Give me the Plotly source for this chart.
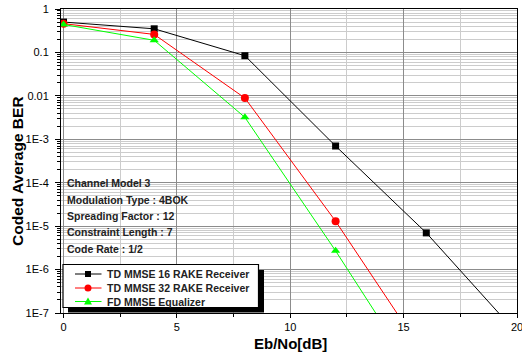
import plotly.graph_objects as go

# ---------------- data ----------------
ebno = [0, 4, 8, 12, 16, 20]
td_mmse_16 = [0.50, 0.35, 0.084, 7.0e-4, 7.0e-6, 3.4e-8]
td_mmse_32 = [0.46, 0.26, 0.0089, 1.3e-5, 9.6e-9]
fd_mmse = [0.44, 0.19, 0.0032, 2.7e-6, 1.55e-9]

series_names = ["TD MMSE 16 RAKE Receiver", "TD MMSE 32 RAKE Receiver", "FD MMSE Equalizer"]
series_colors = ["#000000", "#ff0000", "#00ff00"]
series_symbols = ["square", "circle", "triangle-up"]

y_tick_vals = [1, 0.1, 0.01, 1e-3, 1e-4, 1e-5, 1e-6, 1e-7]
y_tick_text = ["1", "0.1", "0.01", "1E-3", "1E-4", "1E-5", "1E-6", "1E-7"]
x_tick_vals = [0, 5, 10, 15, 20]

info_lines = ["Channel Model 3", "Modulation Type : 4BOK", "Spreading Factor : 12",
              "Constraint Length : 7", "Code Rate : 1/2"]

# ---------------- layout geometry (pixels) ----------------
W, H = 522, 356
ML, MR, MT, MB = 61, 5, 9, 43
PW, PH = W - ML - MR, H - MT - MB
FONT = "Liberation Sans, Arial, sans-serif"


def px(xp):
    return (xp - ML) / PW


def py(yp):
    return (H - MB - yp) / PH


fig = go.Figure()
ys = [td_mmse_16, td_mmse_32, fd_mmse]
for name, col, sym, yv in zip(series_names, series_colors, series_symbols, ys):
    fig.add_trace(go.Scatter(
        x=ebno[:len(yv)], y=yv, name=name, mode="lines+markers",
        line=dict(color=col, width=1),
        marker=dict(symbol=sym, size=8 if sym != "square" else 7, color=col),
        cliponaxis=True, showlegend=False))

minor_y = [k * 10.0 ** e for e in range(-7, 0) for k in range(2, 10)]

fig.update_layout(
    width=W, height=H,
    margin=dict(l=ML, r=MR, t=MT, b=MB, autoexpand=False),
    paper_bgcolor="white", plot_bgcolor="white",
    font=dict(family=FONT, size=11, color="#000"),
    showlegend=False,
    xaxis=dict(
        range=[-0.11, 20], tickmode="array", tickvals=x_tick_vals,
        automargin=False,
        showgrid=True, gridcolor="#8c8c8c", gridwidth=1, zeroline=False,
        showline=True, linecolor="#000", linewidth=1, mirror=True,
        ticks="outside", ticklen=4, tickcolor="#000", ticklabeloverflow="allow",
        minor=dict(tickmode="array", tickvals=[2.5, 7.5, 12.5, 17.5],
                   showgrid=True, gridcolor="#cccccc", ticks="outside",
                   ticklen=3, tickcolor="#000"),
        tickfont=dict(family=FONT, size=11, color="#000"),
    ),
    yaxis=dict(
        type="log", range=[-7, 0], tickmode="array",
        tickvals=y_tick_vals, ticktext=y_tick_text,
        automargin=False,
        showgrid=True, gridcolor="#8c8c8c", gridwidth=1, zeroline=False,
        showline=True, linecolor="#000", linewidth=1, mirror=True,
        ticks="outside", ticklen=5, tickcolor="#000", ticklabelstandoff=4,
        ticklabeloverflow="allow",
        minor=dict(tickmode="array", tickvals=minor_y, showgrid=True,
                   gridcolor="#cccccc", ticks="outside", ticklen=3,
                   tickcolor="#000"),
        tickfont=dict(family=FONT, size=11, color="#000"),
    ),
)

# axis titles
fig.add_annotation(text="<b>Eb/No[dB]</b>", xref="paper", yref="paper",
                   x=px(290), y=py(343), xanchor="center", yanchor="middle",
                   showarrow=False, font=dict(family=FONT, size=15, color="#000"))
fig.add_annotation(text="<b>Coded Average BER</b>", xref="paper", yref="paper",
                   x=px(17), y=py(171), xanchor="center", yanchor="middle",
                   textangle=-90, showarrow=False,
                   font=dict(family=FONT, size=15.5, color="#000"))

# info text
info_y = [183, 199.5, 215.5, 232, 248.5]
for t, yy in zip(info_lines, info_y):
    fig.add_annotation(text="<b>" + t + "</b>", xref="paper", yref="paper",
                       x=px(65), y=py(yy), xanchor="left", yanchor="middle",
                       showarrow=False, font=dict(family=FONT, size=10.5, color="#222"))

# custom legend with shadow
shapes = []
shapes.append(dict(type="rect", xref="paper", yref="paper", layer="above",
                   x0=px(68), x1=px(264), y0=py(270), y1=py(312.5),
                   fillcolor="#000", line=dict(width=0)))
shapes.append(dict(type="rect", xref="paper", yref="paper", layer="above",
                   x0=px(63), x1=px(258.5), y0=py(264.5), y1=py(307.5),
                   fillcolor="#fff", line=dict(color="#000", width=1.2)))
row_y = [274, 288, 301.5]
mx = 88
for name, col, sym, ry in zip(series_names, series_colors, series_symbols, row_y):
    shapes.append(dict(type="line", xref="paper", yref="paper", layer="above",
                       x0=px(75), x1=px(101.5), y0=py(ry), y1=py(ry),
                       line=dict(color=col, width=1)))
    if sym == "square":
        shapes.append(dict(type="rect", xref="paper", yref="paper", layer="above",
                           x0=px(mx - 3), x1=px(mx + 3), y0=py(ry - 3), y1=py(ry + 3),
                           fillcolor=col, line=dict(width=0)))
    elif sym == "circle":
        shapes.append(dict(type="circle", xref="paper", yref="paper", layer="above",
                           x0=px(mx - 3.5), x1=px(mx + 3.5), y0=py(ry - 3.5), y1=py(ry + 3.5),
                           fillcolor=col, line=dict(width=0)))
    else:
        path = "M {} {} L {} {} L {} {} Z".format(px(mx - 4), py(ry + 3), px(mx + 4), py(ry + 3),
                                                 px(mx), py(ry - 4))
        shapes.append(dict(type="path", xref="paper", yref="paper", layer="above",
                           path=path, fillcolor=col, line=dict(width=0)))
    fig.add_annotation(text="<b>" + name + "</b>", xref="paper", yref="paper",
                       x=px(105), y=py(ry), xanchor="left", yanchor="middle",
                       showarrow=False, font=dict(family=FONT, size=10.5, color="#222"))
fig.update_layout(shapes=shapes)

fig.write_html("out.html")
